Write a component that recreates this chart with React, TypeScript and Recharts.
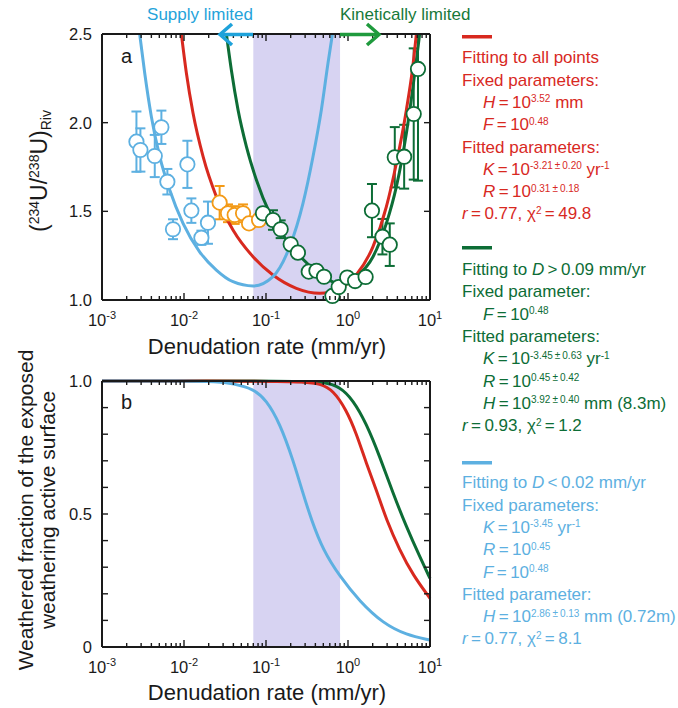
import React from "react";
import {
  ComposedChart, Line, Scatter, ErrorBar, XAxis, YAxis, ReferenceArea,
} from "recharts";

const RED = "#d8291f";
const GREEN = "#0d6d36";
const BLUE = "#5db0e1";
const ORANGE = "#f39a17";
const BAND = "#d7d3f2";
const INK = "#1a1a1a";
const FONT = '"Liberation Sans", Arial, Helvetica, sans-serif';

// log x axis: decades and minor ticks
const X_MAJOR = [0.001, 0.01, 0.1, 1, 10];
const X_MAJOR_EXP = ["-3", "-2", "-1", "0", "1"];
const X_MINOR = [0.001, 0.01, 0.1, 1].flatMap((d) =>
  [2, 3, 4, 5, 6, 7, 8, 9].map((m) => +(d * m).toPrecision(3))
);
const X_TICKS = [...X_MAJOR, ...X_MINOR].sort((a, b) => a - b);

// panel a y axis
const A_Y_TICKS = [1, 1.5, 2, 2.5];
const A_Y_LABELS = ["1.0", "1.5", "2.0", "2.5"];
// panel b y axis
const B_Y_TICKS = [0, 0.1, 0.2, 0.3, 0.4, 0.5, 0.6, 0.7, 0.8, 0.9, 1];
const B_Y_LABELED = [0, 0.5, 1];
const B_Y_LABELS = ["0", "0.5", "1.0"];

// measured (234U/238U) ratios, d = denudation rate mm/yr, e = error
const BLUE_PTS = [
  { d: 0.00263, v: 1.893, e: 0.17 },
  { d: 0.00294, v: 1.846, e: 0.122 },
  { d: 0.0044, v: 1.812, e: 0.119 },
  { d: 0.0053, v: 1.974, e: 0.094 },
  { d: 0.00627, v: 1.667, e: 0.072 },
  { d: 0.00734, v: 1.399, e: 0.056 },
  { d: 0.011, v: 1.765, e: 0.133 },
  { d: 0.0123, v: 1.504, e: 0.069 },
  { d: 0.0163, v: 1.351, e: 0.04 },
  { d: 0.0196, v: 1.436, e: 0.119 },
];
const ORANGE_PTS = [
  { d: 0.0272, v: 1.549, e: 0.094 },
  { d: 0.0344, v: 1.489, e: 0.05 },
  { d: 0.0415, v: 1.479, e: 0.05 },
  { d: 0.0525, v: 1.489, e: 0.05 },
  { d: 0.0621, v: 1.432, e: 0.03 },
  { d: 0.0822, v: 1.451, e: 0.03 },
];
const GREEN_PTS = [
  { d: 0.0918, v: 1.489, e: 0.03 },
  { d: 0.1216, v: 1.451, e: 0.055 },
  { d: 0.151, v: 1.399, e: 0.05 },
  { d: 0.2, v: 1.314, e: 0.03 },
  { d: 0.245, v: 1.267, e: 0.02 },
  { d: 0.332, v: 1.16, e: 0.02 },
  { d: 0.412, v: 1.165, e: 0.02 },
  { d: 0.51, v: 1.131, e: 0.02 },
  { d: 0.646, v: 1.023, e: 0.02 },
  { d: 0.77, v: 1.073, e: 0.02 },
  { d: 0.977, v: 1.127, e: 0.02 },
  { d: 1.22, v: 1.107, e: 0.02 },
  { d: 1.64, v: 1.13, e: 0.02 },
  { d: 1.96, v: 1.504, e: 0.15 },
  { d: 2.63, v: 1.357, e: 0.1 },
  { d: 3.23, v: 1.312, e: 0.12 },
  { d: 3.72, v: 1.805, e: 0.17 },
  { d: 4.84, v: 1.808, e: 0.18 },
  { d: 6.33, v: 2.049, e: 0.37 },
  { d: 7.14, v: 2.303, e: [0.63, 0.197] },
];

// model curves, panel a
const BLUE_A = [
  { d: 0.00288, v: 2.5 }, { d: 0.00332, v: 2.279 }, { d: 0.004, v: 2.034 },
  { d: 0.00506, v: 1.808 }, { d: 0.0067, v: 1.62 }, { d: 0.00973, v: 1.432 },
  { d: 0.0155, v: 1.272 }, { d: 0.0248, v: 1.169 }, { d: 0.0396, v: 1.103 },
  { d: 0.0695, v: 1.079 }, { d: 0.1216, v: 1.132 }, { d: 0.1945, v: 1.301 },
  { d: 0.2825, v: 1.545 }, { d: 0.374, v: 1.808 }, { d: 0.473, v: 2.072 },
  { d: 0.57, v: 2.335 }, { d: 0.646, v: 2.5 },
];
const RED_A = [
  { d: 0.00929, v: 2.5 }, { d: 0.0107, v: 2.279 }, { d: 0.0129, v: 2.053 },
  { d: 0.0171, v: 1.808 }, { d: 0.0248, v: 1.583 }, { d: 0.0396, v: 1.395 },
  { d: 0.0695, v: 1.244 }, { d: 0.1216, v: 1.141 }, { d: 0.2344, v: 1.066 },
  { d: 0.4519, v: 1.038 }, { d: 0.794, v: 1.066 }, { d: 1.259, v: 1.141 },
  { d: 2.018, v: 1.301 }, { d: 2.938, v: 1.526 }, { d: 3.89, v: 1.771 },
  { d: 5.152, v: 2.072 }, { d: 6.095, v: 2.297 }, { d: 6.823, v: 2.5 },
];
const GREEN_A = [
  { d: 0.0329, v: 2.5 }, { d: 0.0378, v: 2.297 }, { d: 0.0456, v: 2.072 },
  { d: 0.0577, v: 1.865 }, { d: 0.0764, v: 1.677 }, { d: 0.1109, v: 1.49 },
  { d: 0.1774, v: 1.34 }, { d: 0.2825, v: 1.23 }, { d: 0.4955, v: 1.135 },
  { d: 0.794, v: 1.09 }, { d: 1.259, v: 1.131 }, { d: 2.018, v: 1.244 },
  { d: 2.938, v: 1.432 }, { d: 3.89, v: 1.639 }, { d: 5.152, v: 1.94 },
  { d: 6.209, v: 2.203 }, { d: 7.482, v: 2.5 },
];

// weathered fraction, panel b
const BLUE_B = [
  { d: 0.001, v: 1 }, { d: 0.01, v: 1 }, { d: 0.025, v: 0.998 },
  { d: 0.04, v: 0.99 }, { d: 0.069, v: 0.972 }, { d: 0.101, v: 0.929 },
  { d: 0.147, v: 0.842 }, { d: 0.214, v: 0.703 }, { d: 0.282, v: 0.578 },
  { d: 0.358, v: 0.478 }, { d: 0.495, v: 0.365 }, { d: 0.794, v: 0.265 },
  { d: 1.39, v: 0.171 }, { d: 2.67, v: 0.089 }, { d: 5.15, v: 0.045 },
  { d: 10, v: 0.026 },
];
const RED_B = [
  { d: 0.001, v: 1 }, { d: 0.1, v: 1 }, { d: 0.3, v: 0.997 },
  { d: 0.456, v: 0.99 }, { d: 0.656, v: 0.966 }, { d: 0.955, v: 0.891 },
  { d: 1.26, v: 0.804 }, { d: 1.67, v: 0.691 }, { d: 2.22, v: 0.59 },
  { d: 2.94, v: 0.478 }, { d: 4.27, v: 0.364 }, { d: 6.21, v: 0.27 },
  { d: 10, v: 0.183 },
];
const GREEN_B = [
  { d: 0.001, v: 1 }, { d: 0.3, v: 1 }, { d: 0.5, v: 0.997 },
  { d: 0.794, v: 0.979 }, { d: 1.15, v: 0.929 }, { d: 1.67, v: 0.841 },
  { d: 2.44, v: 0.716 }, { d: 3.54, v: 0.578 }, { d: 5.15, v: 0.452 },
  { d: 7.48, v: 0.34 }, { d: 10, v: 0.258 },
];

const AXIS = { stroke: INK, strokeWidth: 2 };

const bottomTick = (p: any) => {
  const i = X_MAJOR.indexOf(p.payload.value);
  return (
    <g>
      <line x1={p.x} x2={p.x} y1={p.y} y2={p.y - (i >= 0 ? 7 : 4)} stroke={INK} strokeWidth={1.4} />
      {i >= 0 && (
        <text x={p.x} y={p.y + 26} textAnchor="middle" fontSize={16.5} fill={INK} fontFamily={FONT}>
          10<tspan dy={-7} fontSize={11}>{X_MAJOR_EXP[i]}</tspan>
        </text>
      )}
    </g>
  );
};

const topTick = (p: any) => {
  const major = X_MAJOR.includes(p.payload.value);
  return <line x1={p.x} x2={p.x} y1={p.y} y2={p.y + (major ? 7 : 4)} stroke={INK} strokeWidth={1.4} />;
};

const leftTick = (vals: number[], labels: string[]) => (p: any) => {
  const i = vals.indexOf(p.payload.value);
  return (
    <g>
      <line x1={p.x} x2={p.x + 6} y1={p.y} y2={p.y} stroke={INK} strokeWidth={1.4} />
      {i >= 0 && (
        <text x={p.x - 10} y={p.y + 6} textAnchor="end" fontSize={16.5} fill={INK} fontFamily={FONT}>
          {labels[i]}
        </text>
      )}
    </g>
  );
};

const rightTick = (p: any) => (
  <line x1={p.x} x2={p.x - 6} y1={p.y} y2={p.y} stroke={INK} strokeWidth={1.4} />
);

const ring = (color: string) => (p: any) => (
  <circle cx={p.cx} cy={p.cy} r={7.2} fill="#fff" stroke={color} strokeWidth={1.8} />
);

type Seg = string | { t: string; i?: boolean; s?: boolean };
const I = (t: string) => ({ t, i: true });
const S = (t: string) => ({ t, s: true });

const RED_TEXT: [boolean, Seg[]][] = [
  [false, ["Fitting to all points"]],
  [false, ["Fixed parameters:"]],
  [true, [I("H"), " = 10", S("3.52"), " mm"]],
  [true, [I("F"), " = 10", S("0.48")]],
  [false, ["Fitted parameters:"]],
  [true, [I("K"), " = 10", S("-3.21 ± 0.20"), " yr", S("-1")]],
  [true, [I("R"), " = 10", S("0.31 ± 0.18")]],
  [false, [I("r"), " = 0.77, χ", S("2"), " = 49.8"]],
];
const GREEN_TEXT: [boolean, Seg[]][] = [
  [false, ["Fitting to ", I("D"), " > 0.09 mm/yr"]],
  [false, ["Fixed parameter:"]],
  [true, [I("F"), " = 10", S("0.48")]],
  [false, ["Fitted parameters:"]],
  [true, [I("K"), " = 10", S("-3.45 ± 0.63"), " yr", S("-1")]],
  [true, [I("R"), " = 10", S("0.45 ± 0.42")]],
  [true, [I("H"), " = 10", S("3.92 ± 0.40"), " mm (8.3m)"]],
  [false, [I("r"), " = 0.93, χ", S("2"), " = 1.2"]],
];
const BLUE_TEXT: [boolean, Seg[]][] = [
  [false, ["Fitting to ", I("D"), " < 0.02 mm/yr"]],
  [false, ["Fixed parameters:"]],
  [true, [I("K"), " = 10", S("-3.45"), " yr", S("-1")]],
  [true, [I("R"), " = 10", S("0.45")]],
  [true, [I("F"), " = 10", S("0.48")]],
  [false, ["Fitted parameter:"]],
  [true, [I("H"), " = 10", S("2.86 ± 0.13"), " mm (0.72m)"]],
  [false, [I("r"), " = 0.77, χ", S("2"), " = 8.1"]],
];

// narrower spacing around = and ±, as in the figure
const tight = (t: string) => t.replace(/ = /g, "\u2009=\u2009").replace(/ ± /g, "\u2009±\u2009").replace(/ [<>] /g, (m) => "\u2009" + m.trim() + "\u2009");

function Rich({ x, y, segs, color }: { x: number; y: number; segs: Seg[]; color: string }) {
  let up = false;
  return (
    <text x={x} y={y} fill={color} fontSize={17} style={{ whiteSpace: "pre" }}>
      {segs.map((seg, k) => {
        const s = typeof seg === "string" ? ({ t: seg } as any) : seg;
        let dy = 0;
        if (s.s && !up) { dy = -5.5; up = true; }
        else if (!s.s && up) { dy = 5.5; up = false; }
        return (
          <tspan key={k} dy={dy || undefined} fontSize={s.s ? 10 : 17} fontStyle={s.i ? "italic" : undefined}>
            {tight(s.t)}
          </tspan>
        );
      })}
    </text>
  );
}

function Block({ lines, color, barY, y0 }: { lines: [boolean, Seg[]][]; color: string; barY: number; y0: number }) {
  return (
    <g>
      <rect x={462} y={barY} width={30} height={3.5} fill={color} />
      {lines.map(([ind, segs], k) => (
        <Rich key={k} x={ind ? 483 : 462} y={y0 + k * 22.3} segs={segs} color={color} />
      ))}
    </g>
  );
}

export default function App() {
  return (
    <div style={{ position: "relative", width: 678, height: 708, fontFamily: FONT, background: "#fff" }}>
      <style>{"body{margin:0}"}</style>

      {/* panel a */}
      <div style={{ position: "absolute", left: 0, top: 0 }}>
        <ComposedChart width={450} height={340} margin={{ top: 0, right: 0, bottom: 0, left: 0 }}>
          <XAxis xAxisId="b" dataKey="d" type="number" scale="log" domain={[0.001, 10]} ticks={X_TICKS}
            interval={0} tickSize={0} tickMargin={0} tickLine={false} axisLine={AXIS} tick={bottomTick} height={40} />
          <XAxis xAxisId="t" orientation="top" dataKey="d" type="number" scale="log" domain={[0.001, 10]} ticks={X_TICKS}
            interval={0} tickSize={0} tickMargin={0} tickLine={false} axisLine={AXIS} tick={topTick} height={34} allowDataOverflow />
          <YAxis yAxisId="l" dataKey="v" type="number" domain={[1, 2.5]} ticks={A_Y_TICKS} interval={0}
            tickSize={0} tickMargin={0} tickLine={false} axisLine={AXIS} tick={leftTick(A_Y_TICKS, A_Y_LABELS)} width={102} />
          <YAxis yAxisId="r" orientation="right" dataKey="v" type="number" domain={[1, 2.5]} ticks={A_Y_TICKS} interval={0}
            tickSize={0} tickMargin={0} tickLine={false} axisLine={AXIS} tick={rightTick} width={20} allowDataOverflow />
          <ReferenceArea xAxisId="b" yAxisId="l" x1={0.07} x2={0.8} fill={BAND} fillOpacity={1} stroke="none" />
          <Scatter xAxisId="b" yAxisId="l" data={BLUE_PTS} dataKey="v" shape={ring(BLUE)} isAnimationActive={false}>
            <ErrorBar dataKey="e" direction="y" width={5} stroke={BLUE} strokeWidth={2} />
          </Scatter>
          <Scatter xAxisId="b" yAxisId="l" data={ORANGE_PTS} dataKey="v" shape={ring(ORANGE)} isAnimationActive={false}>
            <ErrorBar dataKey="e" direction="y" width={5} stroke={ORANGE} strokeWidth={2} />
          </Scatter>
          <Scatter xAxisId="b" yAxisId="l" data={GREEN_PTS} dataKey="v" shape={ring(GREEN)} isAnimationActive={false}>
            <ErrorBar dataKey="e" direction="y" width={5} stroke={GREEN} strokeWidth={2} />
          </Scatter>
          <Line xAxisId="b" yAxisId="l" data={GREEN_A} dataKey="v" type="monotone" stroke={GREEN} strokeWidth={3} dot={false} isAnimationActive={false} />
          <Line xAxisId="b" yAxisId="l" data={RED_A} dataKey="v" type="monotone" stroke={RED} strokeWidth={3} dot={false} isAnimationActive={false} />
          <Line xAxisId="b" yAxisId="l" data={BLUE_A} dataKey="v" type="monotone" stroke={BLUE} strokeWidth={3} dot={false} isAnimationActive={false} />
        </ComposedChart>
      </div>

      {/* panel b */}
      <div style={{ position: "absolute", left: 0, top: 341 }}>
        <ComposedChart width={450} height={350} margin={{ top: 0, right: 0, bottom: 0, left: 0 }}>
          <XAxis xAxisId="b" dataKey="d" type="number" scale="log" domain={[0.001, 10]} ticks={X_TICKS}
            interval={0} tickSize={0} tickMargin={0} tickLine={false} axisLine={AXIS} tick={bottomTick} height={44} />
          <XAxis xAxisId="t" orientation="top" dataKey="d" type="number" scale="log" domain={[0.001, 10]} ticks={X_TICKS}
            interval={0} tickSize={0} tickMargin={0} tickLine={false} axisLine={AXIS} tick={topTick} height={40} allowDataOverflow />
          <YAxis yAxisId="l" dataKey="v" type="number" domain={[0, 1]} ticks={B_Y_TICKS} interval={0}
            tickSize={0} tickMargin={0} tickLine={false} axisLine={AXIS} tick={leftTick(B_Y_LABELED, B_Y_LABELS)} width={102} />
          <YAxis yAxisId="r" orientation="right" dataKey="v" type="number" domain={[0, 1]} ticks={B_Y_TICKS} interval={0}
            tickSize={0} tickMargin={0} tickLine={false} axisLine={AXIS} tick={rightTick} width={20} allowDataOverflow />
          <ReferenceArea xAxisId="b" yAxisId="l" x1={0.07} x2={0.8} fill={BAND} fillOpacity={1} stroke="none" />
          <Line xAxisId="b" yAxisId="l" data={GREEN_B} dataKey="v" type="basis" stroke={GREEN} strokeWidth={3} dot={false} isAnimationActive={false} />
          <Line xAxisId="b" yAxisId="l" data={RED_B} dataKey="v" type="basis" stroke={RED} strokeWidth={3} dot={false} isAnimationActive={false} />
          <Line xAxisId="b" yAxisId="l" data={BLUE_B} dataKey="v" type="basis" stroke={BLUE} strokeWidth={3} dot={false} isAnimationActive={false} />
        </ComposedChart>
      </div>

      {/* annotations */}
      <svg width={678} height={708} style={{ position: "absolute", left: 0, top: 0, pointerEvents: "none" }}>
        <text x={200} y={20} textAnchor="middle" fontSize={17} fill="#25a3da">Supply limited</text>
        <text x={340} y={20} fontSize={17} fill="#17793a">Kinetically limited</text>
        <line x1={253} y1={34.5} x2={221} y2={34.5} stroke="#1ea2da" strokeWidth={3.5} />
        <polyline points="232,24 220,34.5 232,45" fill="none" stroke="#1ea2da" strokeWidth={3.5} />
        <line x1={340} y1={34.5} x2={378} y2={34.5} stroke="#1f9a3d" strokeWidth={3.5} />
        <polyline points="367,24 379,34.5 367,45" fill="none" stroke="#1f9a3d" strokeWidth={3.5} />

        <text x={121} y={63} fontSize={20} fill={INK}>a</text>
        <text x={121} y={409} fontSize={20} fill={INK}>b</text>

        <text x={267} y={354} textAnchor="middle" fontSize={22} fill={INK}>Denudation rate (mm/yr)</text>
        <text x={267} y={700} textAnchor="middle" fontSize={22} fill={INK}>Denudation rate (mm/yr)</text>

        <text x={47} y={171} transform="rotate(-90 47 171)" textAnchor="middle" fontSize={23} fill={INK}>
          (<tspan dy={-8} fontSize={14}>234</tspan><tspan dy={8}>U/</tspan><tspan dy={-8} fontSize={14}>238</tspan><tspan dy={8}>U)</tspan><tspan dy={4} fontSize={14}>Riv</tspan>
        </text>
        <text x={33} y={510} transform="rotate(-90 33 510)" textAnchor="middle" fontSize={21} fill={INK}>
          Weathered fraction of the exposed
        </text>
        <text x={55} y={510} transform="rotate(-90 55 510)" textAnchor="middle" fontSize={21} fill={INK}>
          weathering active surface
        </text>

        <Block lines={RED_TEXT} color={RED} barY={35} y0={63.3} />
        <Block lines={GREEN_TEXT} color={GREEN} barY={246} y0={275} />
        <Block lines={BLUE_TEXT} color={BLUE} barY={461} y0={488.3} />
      </svg>
    </div>
  );
}
